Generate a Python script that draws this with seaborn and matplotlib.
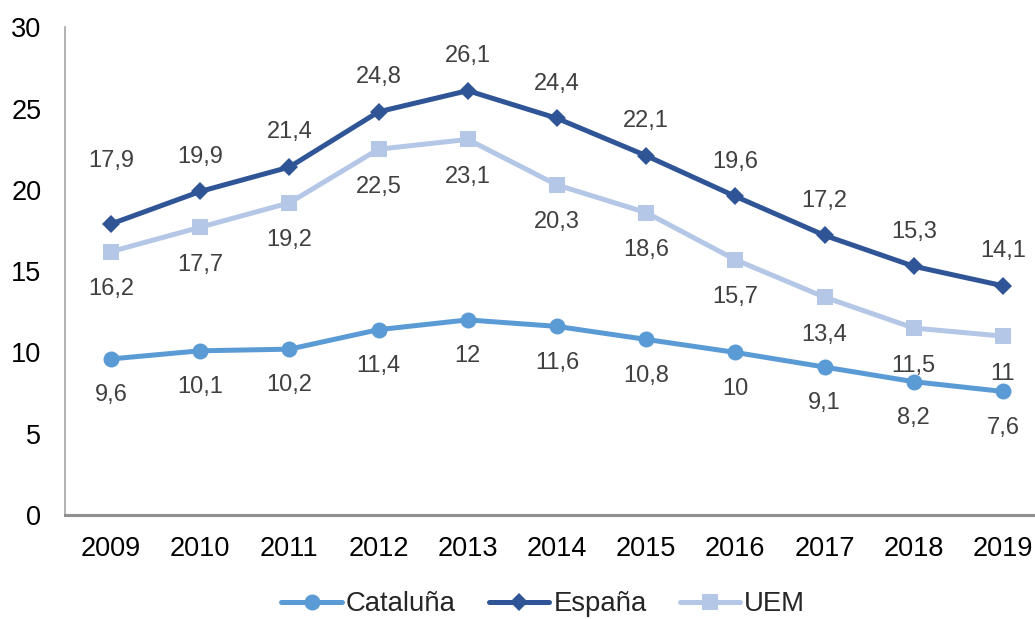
import matplotlib
matplotlib.use("Agg")
import matplotlib.pyplot as plt
import seaborn as sns
import pandas as pd

years = [2009, 2010, 2011, 2012, 2013, 2014, 2015, 2016, 2017, 2018, 2019]
cataluna = [9.6, 10.1, 10.2, 11.4, 12, 11.6, 10.8, 10, 9.1, 8.2, 7.6]
espana = [17.9, 19.9, 21.4, 24.8, 26.1, 24.4, 22.1, 19.6, 17.2, 15.3, 14.1]
uem = [16.2, 17.7, 19.2, 22.5, 23.1, 20.3, 18.6, 15.7, 13.4, 11.5, 11]

series = ["Cataluña", "España", "UEM"]
df = pd.DataFrame({"year": years * 3,
                   "value": cataluna + espana + uem,
                   "serie": [s for s in series for _ in years]})

sns.set_style("white")
plt.rcParams['font.family'] = ['Liberation Sans', 'DejaVu Sans']

colors = {"Cataluña": "#5B9BD5", "España": "#2F5597", "UEM": "#B4C7E7"}
markers = {"Cataluña": "o", "España": "D", "UEM": "s"}
msizes = {"Cataluña": 11.5, "España": 9.5, "UEM": 11}
# label offsets in points (above / below each point)
offsets = {"Cataluña": -26, "España": 25, "UEM": -27}

fig = plt.figure(figsize=(10.35, 6.19), dpi=100)
ax = fig.add_axes([65 / 1035, 0.168, 1 - 65 / 1035, 0.788])

for s in series:
    sub = df[df["serie"] == s]
    sns.lineplot(data=sub, x="year", y="value", ax=ax, color=colors[s],
                 marker=markers[s], markersize=msizes[s], markeredgewidth=0,
                 linewidth=3.6, solid_capstyle="round", label=s)
    for i, (x, y) in enumerate(zip(sub["year"], sub["value"])):
        off = offsets[s]
        if s == "España" and i == 0:
            off = 45
        txt = ("%g" % y).replace(".", ",")
        ax.annotate(txt, (x, y), xytext=(0, off), textcoords="offset points",
                    ha="center", va="center", fontsize=17, color="#404040")

ax.set_xlim(2008.484, 2019.36)
ax.set_ylim(0, 30)
ax.set_yticks(range(0, 31, 5))
ax.set_xticks(years)
ax.set_xlabel("")
ax.set_ylabel("")
ax.tick_params(axis="both", labelsize=19.5, length=0, colors="black")
ax.tick_params(axis="y", pad=17)
ax.tick_params(axis="x", pad=15)
for side in ["top", "right"]:
    ax.spines[side].set_visible(False)
ax.spines["left"].set_color("#A6A6A6")
ax.spines["left"].set_linewidth(1.2)
ax.spines["bottom"].set_color("#909090")
ax.spines["bottom"].set_linewidth(2.2)

ax.legend_.remove()
handles, labels = ax.get_legend_handles_labels()
fig.legend(handles, labels, loc="center", bbox_to_anchor=(0.525, 0.024), ncol=3,
           frameon=False, fontsize=19.8, handlelength=2.2, handletextpad=0.15,
           columnspacing=1.2)

fig.savefig("out.png", dpi=100)
